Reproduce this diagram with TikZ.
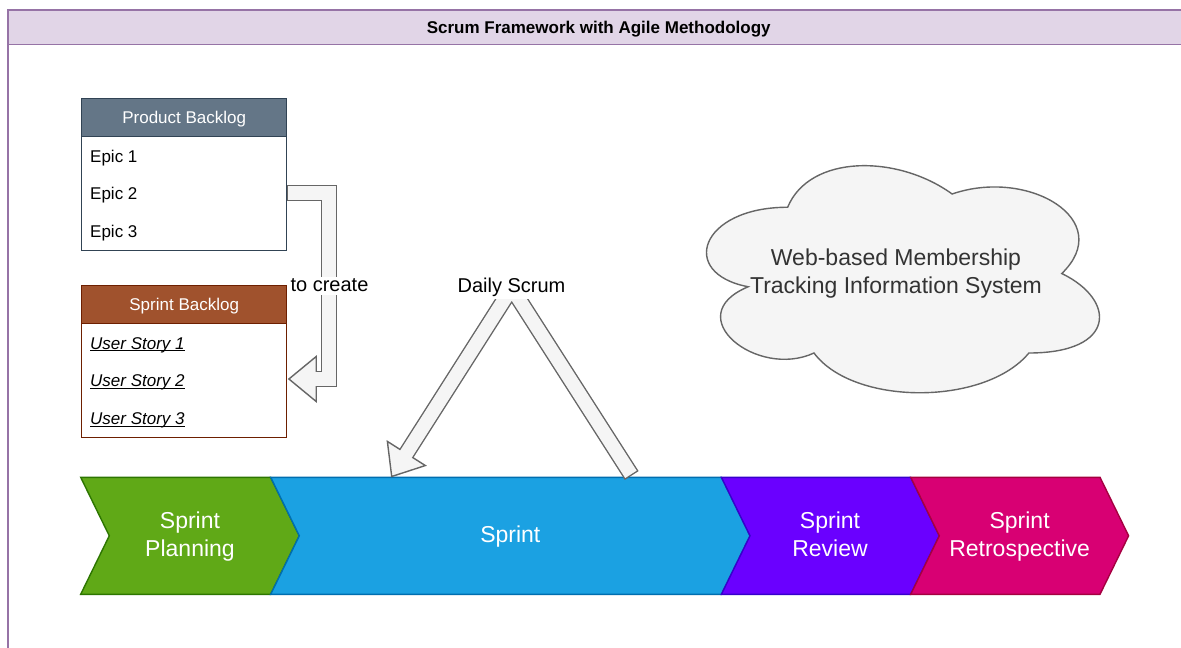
\documentclass[tikz,border=0pt]{standalone}
\usepackage{fontspec}
\setmainfont{Liberation Sans}
\usetikzlibrary{calc}

\definecolor{frameline}{HTML}{9673A6}
\definecolor{framefill}{HTML}{E1D5E7}
\definecolor{pbfill}{HTML}{647687}
\definecolor{pbline}{HTML}{314354}
\definecolor{sbfill}{HTML}{A0522D}
\definecolor{sbline}{HTML}{6D1F00}
\definecolor{arrowfill}{HTML}{F5F5F5}
\definecolor{arrowline}{HTML}{666666}
\definecolor{cloudtext}{HTML}{333333}
\definecolor{planfill}{HTML}{60A917}
\definecolor{planline}{HTML}{2D7600}
\definecolor{sprintfill}{HTML}{1BA1E2}
\definecolor{sprintline}{HTML}{006EAF}
\definecolor{reviewfill}{HTML}{6A00FF}
\definecolor{reviewline}{HTML}{3700CC}
\definecolor{retrofill}{HTML}{D80073}
\definecolor{retroline}{HTML}{A50040}

\newcommand{\fsz}[2]{\fontsize{#1}{#2}\selectfont}
% underline drawn just below the baseline, through the descenders
\newcommand{\storyline}[1]{\setbox0\hbox{#1}\rlap{\rule[-2.4pt]{\wd0}{1pt}}\box0}
% vertical extent of the phase chevrons
\def\stepTop{477.3}
\def\stepBot{594.3}
\def\stepMid{535.8}

\begin{document}
\begin{tikzpicture}[x=1pt,y=-1pt,
  tablehead/.style={draw, line width=1.4pt, minimum width=205pt, minimum height=38pt,
    inner sep=0pt, text=white, font=\fsz{17}{20}, text height=12.2pt, text depth=0pt, anchor=north west},
  tablebody/.style={draw, line width=1.4pt, fill=white, minimum width=205pt,
    minimum height=114pt, inner sep=0pt, anchor=north west},
  rowtext/.style={anchor=base west, inner sep=0pt, font=\fsz{17}{20}},
  storytext/.style={rowtext, font=\fsz{17}{20}\itshape},
  shaftout/.style={draw=arrowline, line width=16.4pt, line join=miter},
  shaftin/.style={draw=arrowfill, line width=13.6pt, line join=miter},
  headtip/.style={fill=arrowfill, draw=arrowline, line width=1.4pt, line join=miter},
  stepshape/.style={line width=1.4pt, line join=miter},
  steplabel/.style={text=white, align=center, font=\fsz{23}{28}, inner sep=0pt},
  arrowlabel/.style={fill=white, anchor=base, inner sep=0.5pt, font=\fsz{20}{24}},
]
\useasboundingbox (0,0) rectangle (1181,648);

% outer container with its title bar
\begin{scope}
  \clip (0,0) rectangle (1181,648);
  \draw[draw=frameline, line width=1.4pt, fill=white] (8,10) rectangle (1188,700);
  \node[draw=frameline, fill=framefill, line width=1.4pt, minimum width=1180pt,
        minimum height=34pt, inner sep=0pt, anchor=north west, text height=12.2pt,
        text depth=0pt, font=\bfseries\fsz{17}{20}] (title) at (8,10)
        {Scrum Framework with Agile Methodology};
\end{scope}

% Product Backlog list
\node[tablebody, draw=pbline] (pbb) at (81,136) {};
\node[tablehead, fill=pbfill, draw=pbline] (pbh) at (81,98) {Product Backlog};
\node[rowtext] (epic1) at (90,162) {Epic 1};
\node[rowtext] (epic2) at (90,199.6) {Epic 2};
\node[rowtext] (epic3) at (90,237.8) {Epic 3};

% Sprint Backlog list
\node[tablebody, draw=sbline] (sbb) at (81,323) {};
\node[tablehead, fill=sbfill, draw=sbline] (sbh) at (81,285) {Sprint Backlog};
\node[storytext] (story1) at (90,349) {\storyline{User Story 1}};
\node[storytext] (story2) at (90,386.7) {\storyline{User Story 2}};
\node[storytext] (story3) at (90,424.2) {\storyline{User Story 3}};

% cloud
\begin{scope}[shift={(678,141)}, x=438.6pt, y=-265pt]
  \draw[fill=arrowfill, draw=arrowline, line width=1.4pt]
    (0.25,0.25) .. controls (0.05,0.25) and (0,0.5) .. (0.16,0.55)
    .. controls (0,0.66) and (0.18,0.9) .. (0.31,0.8)
    .. controls (0.4,1) and (0.7,1) .. (0.8,0.8)
    .. controls (1,0.8) and (1,0.6) .. (0.875,0.5)
    .. controls (1,0.3) and (0.8,0.1) .. (0.625,0.2)
    .. controls (0.5,0.05) and (0.3,0.05) .. (0.25,0.25) -- cycle;
\end{scope}
\node[align=center, inner sep=0pt, text=cloudtext, font=\fsz{23}{28}] (cloud) at (896,274)
  {Web-based Membership\\Tracking Information System};

% phase chevrons
\filldraw[stepshape, fill=planfill, draw=planline]
  (80.7,\stepTop) -- (270.7,\stepTop) -- (299.3,\stepMid) -- (270.7,\stepBot)
  -- (80.7,\stepBot) -- (109.3,\stepMid) -- cycle;
\filldraw[stepshape, fill=sprintfill, draw=sprintline]
  (270.7,\stepTop) -- (721.4,\stepTop) -- (750,\stepMid) -- (721.4,\stepBot)
  -- (270.7,\stepBot) -- (299.3,\stepMid) -- cycle;
\filldraw[stepshape, fill=reviewfill, draw=reviewline]
  (721.4,\stepTop) -- (910.7,\stepTop) -- (939.3,\stepMid) -- (910.7,\stepBot)
  -- (721.4,\stepBot) -- (750,\stepMid) -- cycle;
\filldraw[stepshape, fill=retrofill, draw=retroline]
  (910.7,\stepTop) -- (1100,\stepTop) -- (1128.6,\stepMid) -- (1100,\stepBot)
  -- (910.7,\stepBot) -- (939.3,\stepMid) -- cycle;
\node[steplabel] (planning) at (190,537) {Sprint\\Planning};
\node[steplabel] (sprint) at (510.3,537) {Sprint};
\node[steplabel] (review) at (830,537) {Sprint\\Review\vphantom{g}};
\node[steplabel] (retro) at (1019.6,537) {Sprint\\Retrospective};

% "to create" arrow from the product backlog to the sprint backlog
\coordinate (tcS) at ($(pbb.north east)+(0,57.2)$);
\coordinate (tc1) at (329.2,193.2);
\coordinate (tc2) at (329.2,379);
\coordinate (tcT) at ($(sbb.north east)+(1.5,56)$);
\coordinate (tcB) at ($(tcT)!27.3pt!(tc2)$);

% "Daily Scrum" loop over the sprint
\coordinate (dsA) at (631.7,475.5);
\coordinate (dsP) at (511.7,288);
\coordinate (dsT) at (391.7,476.5);
\coordinate (dsB) at ($(dsT)!27.3pt!(dsP)$);

\draw[shaftout] (tcS) -- (tc1) -- (tc2) -- (tcB);
\draw[shaftout] (dsA) -- (dsP) -- (dsB);
\filldraw[headtip] ($(tcB)!22.5pt!90:(tcT)$) -- (tcT) -- ($(tcB)!22.5pt!-90:(tcT)$) -- cycle;
\filldraw[headtip] ($(dsB)!22.5pt!90:(dsT)$) -- (dsT) -- ($(dsB)!22.5pt!-90:(dsT)$) -- cycle;
\draw[shaftin, shorten <=0.7pt, shorten >=-2pt] (tcS) -- (tc1) -- (tc2) -- (tcB);
\draw[shaftin, shorten <=1.4pt, shorten >=-2pt] (dsA) -- (dsP) -- (dsB);

\node[arrowlabel, text height=14pt, text depth=2.8pt] (tclabel) at (329.5,291.7) {to create};
\node[arrowlabel, text height=20pt, text depth=6pt] (dslabel) at (511.5,292.7) {Daily Scrum};
\end{tikzpicture}
\end{document}
